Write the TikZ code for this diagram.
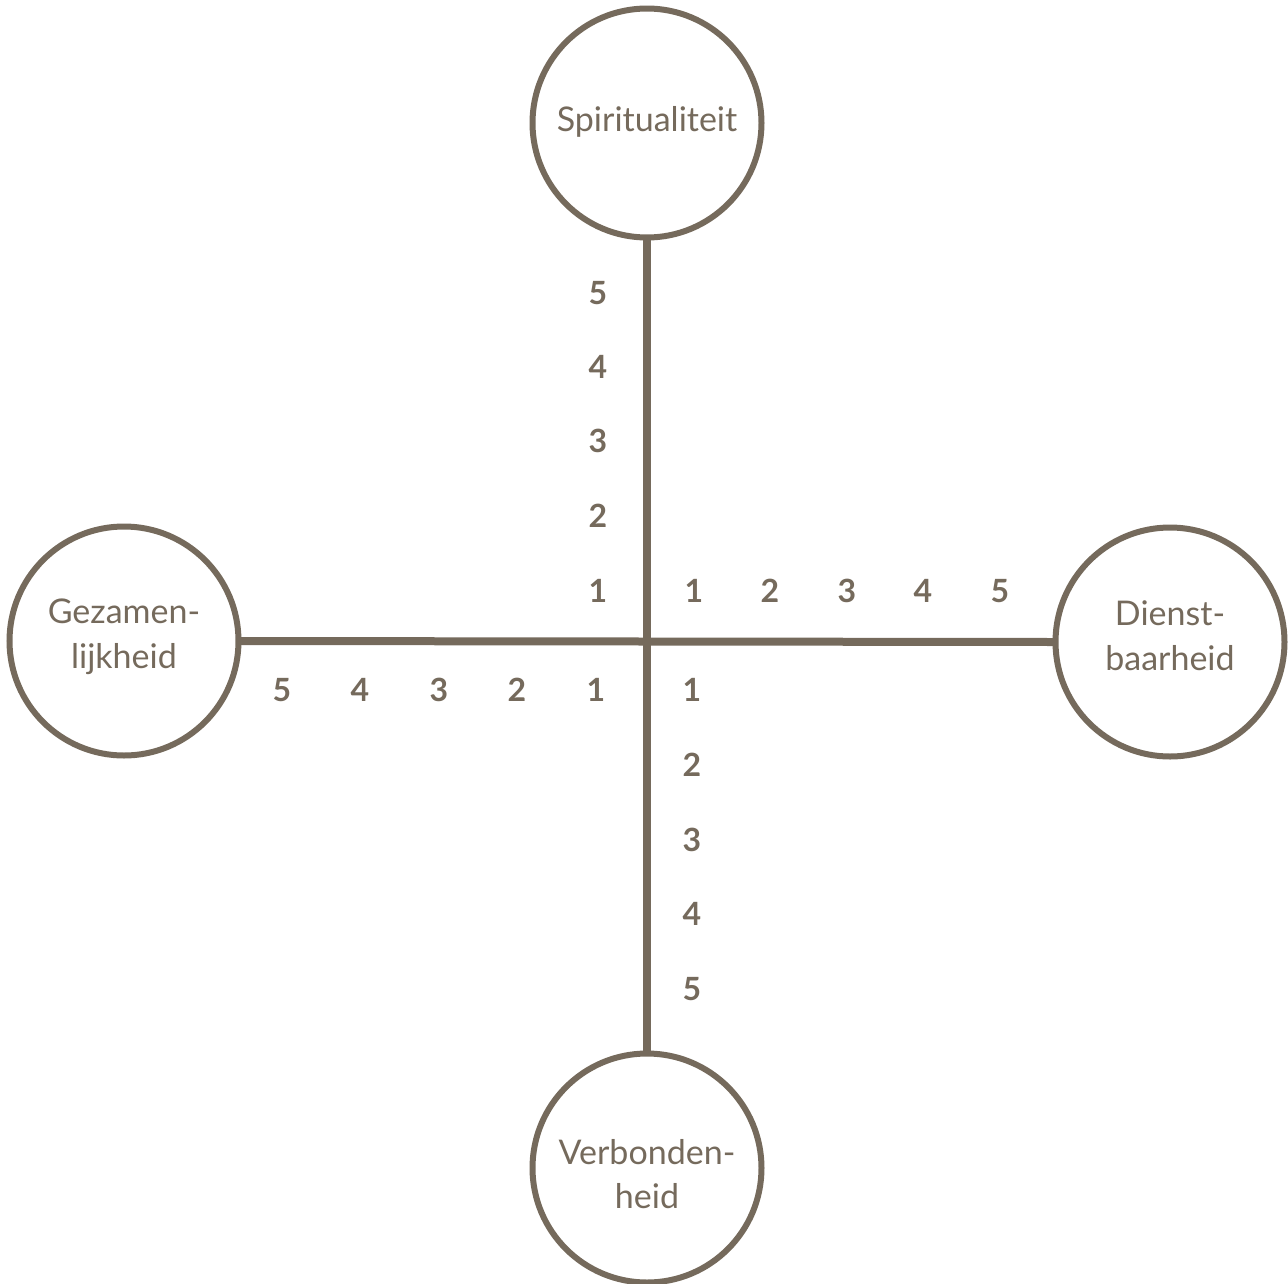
\documentclass[tikz,border=0pt]{standalone}
\usepackage{fontspec}
\setmainfont{Lato}
\definecolor{ink}{HTML}{756A5C}
\begin{document}
\begin{tikzpicture}[x=1pt,y=-1pt,
  pole/.style={circle,draw=ink,line width=6pt,minimum size=229pt,inner sep=0pt,outer sep=0pt},
  lab/.style={text=ink,font=\fontsize{34}{34}\selectfont,inner sep=0pt,anchor=base},
  axis/.style={draw=ink,line width=8pt},
  num/.style={text=ink,font=\fontsize{32}{32}\selectfont\bfseries,inner sep=0pt,text depth=0pt}]
\useasboundingbox (0,0) rectangle (1288,1283);
\node[pole] (top) at (647,123) {};
\node[pole] (left) at (124,641) {};
\node[pole] (right) at (1170,642) {};
\node[pole] (bottom) at (647,1168) {};
\node[lab] (t1) at (647,131) {Spiritualiteit};
\node[lab] (l1) at (124,623) {Gezamen-};
\node[lab] (l2) at (124,668) {lijkheid};
\node[lab] (r1) at (1170,625) {Dienst-};
\node[lab] (r2) at (1170,670) {baarheid};
\node[lab] (b1) at (647,1164) {Verbonden-};
\node[lab] (b2) at (647,1208) {heid};
\draw[axis] (top.south) -- (bottom.north);
\draw[axis] (left.east) -- (right.west);
% upper
\foreach \n/\y in {5/293,4/367,3/441,2/516,1/591}
  \node[num] (u\n) at (598,\y) {\n};
% right
\foreach \n/\x in {1/694,2/770,3/847,4/923,5/1000}
  \node[num] (r\n) at (\x,591) {\n};
% left
\foreach \n/\x in {5/282,4/360,3/439,2/517,1/596}
  \node[num] (l\n) at (\x,690) {\n};
% lower
\foreach \n/\y in {1/690,2/765,3/840,4/914,5/989}
  \node[num] (d\n) at (692,\y) {\n};
\end{tikzpicture}
\end{document}
